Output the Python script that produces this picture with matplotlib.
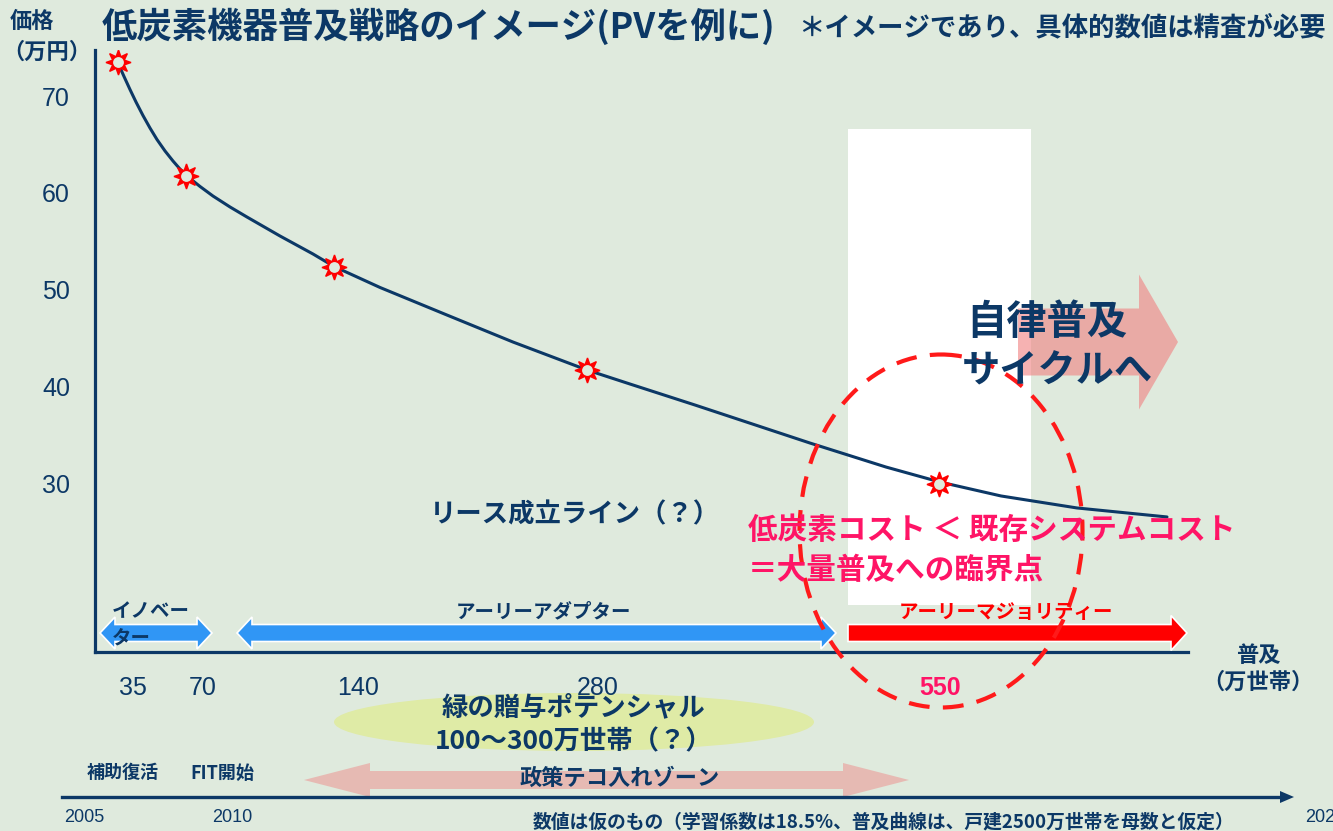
import matplotlib
matplotlib.use("Agg")
import matplotlib.pyplot as plt
from matplotlib.patches import Polygon, Ellipse, Rectangle

# ---------------- data ----------------
# price (万円) on y, diffusion position on x (chart units along the axis)
curve_x = [23, 29, 35, 41, 48, 55, 62, 70, 78, 85, 92, 105, 118, 135, 152,
           185, 218, 239, 285, 352, 418, 492, 535, 600, 715, 791, 845, 906,
           982, 1072]
curve_y = [73.41, 72.02, 70.67, 69.38, 67.98, 66.69, 65.50, 64.32, 63.28,
           62.45, 61.73, 60.65, 59.66, 58.53, 57.49, 55.53, 53.67, 52.38,
           50.21, 47.36, 44.57, 41.68, 40.23, 38.06, 34.13, 31.65, 30.10,
           28.66, 27.42, 26.49]
star_x = [23, 91, 239, 492, 844]
star_y = [73.5, 61.7, 52.3, 41.7, 29.9]
y_ticks = [30, 40, 50, 60, 70]
x_tick_pos = [38, 108, 263, 503, 845]
x_tick_labels = ["35", "70", "140", "280", "550"]
year_labels = ["2005", "2010", "2020"]

# ---------------- style ----------------
BG = "#dfeadd"
NAVY = "#0c3866"
MAG = "#ff1466"
RED = "#ff0000"
BLUE = "#3096f5"
JP = ["Noto Sans CJK JP", "DejaVu Sans"]
NUM = ["Liberation Sans", "Noto Sans CJK JP", "DejaVu Sans"]
plt.rcParams["font.family"] = JP

W, H = 1333, 831
fig = plt.figure(figsize=(W / 100, H / 100), dpi=100)
fig.patch.set_facecolor(BG)

# background layer (pixel coords)
axb = fig.add_axes([0, 0, 1, 1], zorder=0)
axb.set_xlim(0, W); axb.set_ylim(H, 0); axb.axis("off")
axb.add_patch(Rectangle((848, 129), 183, 476, facecolor="white", edgecolor="none"))
axb.add_patch(Ellipse((574, 722), 480, 58, facecolor="#dfeba6", edgecolor="none"))

# main chart axes
ax_l, ax_r, ax_top, ax_bot = 95, 1188, 50, 652
ax = fig.add_axes([ax_l / W, (H - ax_bot) / H, (ax_r - ax_l) / W, (ax_bot - ax_top) / H], zorder=1)
ax.patch.set_alpha(0)
ax.set_xlim(0, ax_r - ax_l)
ax.set_ylim(70 - (ax_bot - 96) / 9.675, 70 + (96 - ax_top) / 9.675)
for s in ["top", "right"]:
    ax.spines[s].set_visible(False)
for s in ["left", "bottom"]:
    ax.spines[s].set_color(NAVY)
    ax.spines[s].set_linewidth(2.3)
ax.set_yticks(y_ticks)
ax.set_yticklabels([str(v) for v in y_ticks], fontfamily=NUM, fontsize=18, color=NAVY)
ax.set_xticks(x_tick_pos)
ax.set_xticklabels(x_tick_labels, fontfamily=NUM, fontsize=18, color=NAVY)
ax.tick_params(axis="both", length=0)
ax.tick_params(axis="y", pad=18)
ax.tick_params(axis="x", pad=17)
lab550 = ax.get_xticklabels()[-1]
lab550.set_color(MAG); lab550.set_fontweight("bold")

ax.plot(curve_x, curve_y, color=NAVY, lw=2.2, solid_capstyle="round",
        solid_joinstyle="round", zorder=3)
ax.plot(star_x, star_y, linestyle="none", marker=(8, 1, 0), markersize=18,
        markerfacecolor=RED, markeredgecolor=RED, zorder=4)
ax.plot(star_x, star_y, linestyle="none", marker="o", markersize=9,
        markerfacecolor=BG, markeredgecolor=RED, markeredgewidth=1.2, zorder=5)

# top overlay (pixel coords)
axt = fig.add_axes([0, 0, 1, 1], zorder=2)
axt.set_xlim(0, W); axt.set_ylim(H, 0); axt.axis("off")
axt.patch.set_alpha(0)


def arrow_poly(x0, x1, yc, shaft, head_h, head_len, left=True, right=True):
    top, bot = yc - shaft / 2, yc + shaft / 2
    ht, hb = yc - head_h / 2, yc + head_h / 2
    pts = []
    if left:
        pts += [(x0, yc), (x0 + head_len, ht), (x0 + head_len, top)]
    else:
        pts += [(x0, top)]
    if right:
        pts += [(x1 - head_len, top), (x1 - head_len, ht), (x1, yc),
                (x1 - head_len, hb), (x1 - head_len, bot)]
    else:
        pts += [(x1, top), (x1, bot)]
    if left:
        pts += [(x0 + head_len, bot), (x0 + head_len, hb)]
    else:
        pts += [(x0, bot)]
    return pts


# big pink arrow
axt.add_patch(Polygon(arrow_poly(1018, 1178, 342, 67, 135, 39, left=False),
                      closed=True, facecolor="#f08080", alpha=0.6, edgecolor="none", zorder=1))
# stage arrows
axt.add_patch(Polygon(arrow_poly(100, 212, 633, 17, 32, 15), closed=True,
                      facecolor=BLUE, edgecolor="white", lw=1.2, zorder=2))
axt.add_patch(Polygon(arrow_poly(237, 836, 633, 17, 32, 15), closed=True,
                      facecolor=BLUE, edgecolor="white", lw=1.2, zorder=2))
axt.add_patch(Polygon(arrow_poly(848, 1187, 633, 17, 35, 16, left=False), closed=True,
                      facecolor=RED, edgecolor="white", lw=1.2, zorder=2))
# policy zone arrow
axt.add_patch(Polygon(arrow_poly(304, 909, 780, 18, 34, 66), closed=True,
                      facecolor="#f08080", alpha=0.45, edgecolor="none", zorder=1))
# timeline
axt.plot([62, 1282], [797, 797], color=NAVY, lw=2.4, zorder=2)
axt.add_patch(Polygon([(1280, 791), (1294, 797), (1280, 803)], closed=True,
                      facecolor=NAVY, edgecolor="none", zorder=2))
# dashed ellipse
axt.add_patch(Ellipse((941, 531), 283, 353, facecolor="none", edgecolor="#ff1a1a",
                      lw=3.0, linestyle=(0, (5, 3.2)), zorder=3))

# texts
def T(x, y, s, size, color=NAVY, ha="left", weight="bold", fam=JP, z=4):
    axt.text(x, y, s, fontsize=size, color=color, ha=ha, va="center",
             fontweight=weight, fontfamily=fam, zorder=z)

T(10, 21, "価格", 16)
T(2, 52, "（万円）", 16)
T(102, 26, "低炭素機器普及戦略のイメージ(PVを例に)", 25.5)
T(798, 28, "＊イメージであり、具体的数値は精査が必要", 19)
T(966, 322, "自律普及", 29)
T(962, 371, "サイクルへ", 27.5)
T(430, 515, "リース成立ライン（？）", 19)
T(748, 530, "低炭素コスト ＜ 既存システムコスト", 21.3, color=MAG)
T(748, 570, "＝大量普及への臨界点", 21.3, color=MAG)
T(112, 612, "イノベー", 14)
T(112, 638, "ター", 14)
T(544, 612, "アーリーアダプター", 14, ha="center")
T(1006, 612, "アーリーマジョリティー", 14, color=RED, ha="center")
T(1258, 655, "普及", 16, ha="center")
T(1258, 682, "（万世帯）", 16, ha="center")
T(574, 708, "緑の贈与ポテンシャル", 19, ha="center")
T(574, 742, "100～300万世帯（？）", 19, ha="center")
T(87, 773, "補助復活", 13)
T(190, 773, "FIT開始", 13)
T(620, 778, "政策テコ入れゾーン", 16, ha="center")
T(84, 818, year_labels[0], 13, ha="center", weight="normal", fam=NUM)
T(232, 818, year_labels[1], 13, ha="center", weight="normal", fam=NUM)
T(1305, 818, year_labels[2], 13, ha="left", weight="normal", fam=NUM)
T(533, 822, "数値は仮のもの（学習係数は18.5%、普及曲線は、戸建2500万世帯を母数と仮定）", 13.5)

fig.savefig("out.png", dpi=100, facecolor=BG)
